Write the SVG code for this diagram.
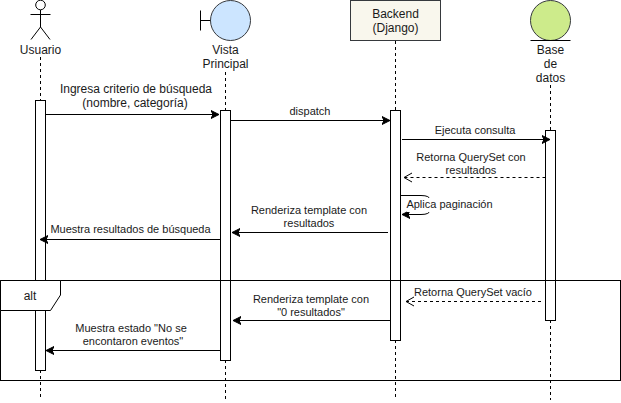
<svg xmlns="http://www.w3.org/2000/svg" width="621" height="403" viewBox="0 0 621 403">
<style>
text{font-family:"Liberation Sans",Arial,sans-serif;font-size:12px;fill:#1a1a1a;text-anchor:middle}
.s{font-size:11px}
.l{fill:none;stroke:#000;stroke-width:1}
.life{fill:none;stroke:#000;stroke-dasharray:3 3}
.act{fill:#fff;stroke:#000}
.m{fill:none;stroke:#000;marker-end:url(#f)}
.r{fill:none;stroke:#000;stroke-dasharray:3 3;marker-end:url(#o)}
</style>
<defs>
<marker id="f" markerUnits="userSpaceOnUse" markerWidth="10" markerHeight="10" refX="8" refY="4.5" orient="auto"><path d="M0 0.5L8 4.5L0 8.5L2 4.5Z" fill="#000" stroke="#000"/></marker>
<marker id="o" markerUnits="userSpaceOnUse" markerWidth="10" markerHeight="12" refX="8" refY="5" orient="auto"><path d="M0 0.5L8 5L0 9.5" fill="none" stroke="#000"/></marker>
</defs>
<g id="lifelines">
<path class="life" d="M40.5 57V100M40.5 370V400"/>
<path class="life" d="M225.5 72V110M225.5 360V400"/>
<path class="life" d="M395.5 41V110M395.5 340V400"/>
<path class="life" d="M550.5 85V130M550.5 320V400"/>
</g>
<g id="usuario">
<circle class="l" cx="40.5" cy="5" r="4.8"/>
<path class="l" d="M40.5 10V27M30.5 14.5H50.5M40.5 27L31 39.5M40.5 27L50 39.5"/>
<text x="40.5" y="54">Usuario</text>
<rect class="act" x="35.5" y="100.5" width="10" height="270"/>
</g>
<g id="vista">
<circle cx="230.5" cy="20.5" r="20" fill="#cce5ff" stroke="#36393d"/>
<path class="l" d="M200.5 10.5V30.5M200.5 20.5H210.5"/>
<text x="225.5" y="54">Vista</text>
<text x="225.5" y="68">Principal</text>
<rect class="act" x="220.5" y="110.5" width="10" height="250"/>
</g>
<g id="backend">
<rect x="350.5" y="0.5" width="90" height="40" fill="#f9f7ed" stroke="#36393d"/>
<text x="395.5" y="18">Backend</text>
<text x="395.5" y="32">(Django)</text>
<rect class="act" x="390.5" y="110.5" width="10" height="230"/>
</g>
<g id="base">
<circle cx="550.5" cy="20.5" r="20" fill="#cdeb8b" stroke="#36393d"/>
<path class="l" d="M530.5 40.5H570.5"/>
<text x="550.5" y="54">Base</text>
<text x="550.5" y="68">de</text>
<text x="550.5" y="82">datos</text>
<rect class="act" x="545.5" y="130.5" width="10" height="190"/>
</g>
<g id="frame-alt">
<rect class="l" x="0.5" y="280.5" width="620" height="100"/>
<path d="M0.5 280.5H60.5V295L50.5 310.5H0.5Z" fill="#fff" stroke="#000"/>
<text x="30" y="300">alt</text>
</g>
<g id="connectors">
<path class="m" d="M45.5 114.5H219"/>
<path class="m" d="M230.5 120.5H390"/>
<path class="m" d="M402 139.5H550"/>
<path class="r" d="M545.5 177.5H404"/>
<path class="m" d="M401 195.5H421Q430 195.5 430 200V210Q430 214.5 421 214.5H402"/>
<path class="m" d="M388 232.5H232"/>
<path class="m" d="M220.5 239.5H40"/>
<path class="r" d="M541 301.5H406"/>
<path class="m" d="M390.5 320.5H233"/>
<path class="m" d="M220.5 350.5H46"/>
</g>
<g id="labels">
<text x="136" y="93">Ingresa criterio de búsqueda</text>
<text x="135" y="107">(nombre, categoría)</text>
<text class="s" x="310" y="115">dispatch</text>
<text class="s" x="475" y="134">Ejecuta consulta</text>
<text class="s" x="471" y="161">Retorna QuerySet con</text>
<text class="s" x="471" y="174">resultados</text>
<rect x="407" y="198" width="85" height="14" fill="#fff"/>
<text class="s" x="449.5" y="208">Aplica paginación</text>
<text class="s" x="309" y="214">Renderiza template con</text>
<text class="s" x="309" y="227">resultados</text>
<text class="s" x="130.5" y="233">Muestra resultados de búsqueda</text>
<text class="s" x="473" y="296">Retorna QuerySet vacío</text>
<text class="s" x="311" y="303">Renderiza template con</text>
<text class="s" x="311" y="316">"0 resultados"</text>
<text class="s" x="131" y="332">Muestra estado "No se</text>
<text class="s" x="133" y="345">encontaron eventos"</text>
</g>
</svg>
